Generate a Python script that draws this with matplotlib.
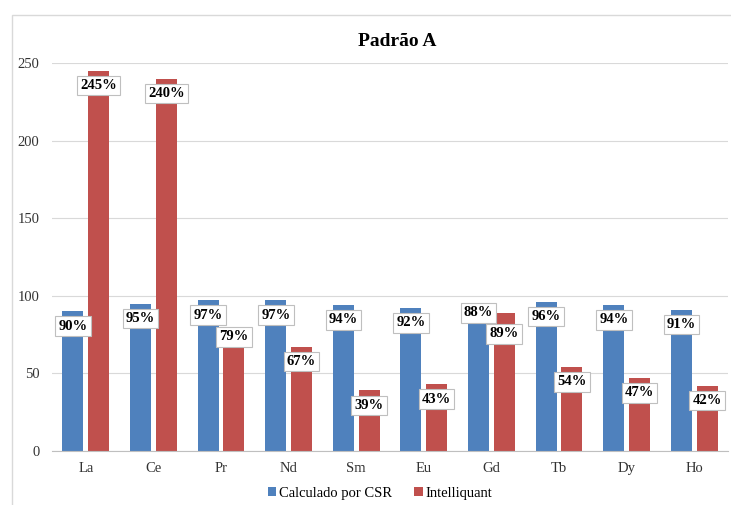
import numpy as np
import matplotlib; matplotlib.use("Agg")
import matplotlib.pyplot as plt
from matplotlib.patches import Rectangle

plt.rcParams["font.family"] = ["Liberation Serif", "DejaVu Serif"]

elementos   = ["La", "Ce", "Pr", "Nd", "Sm", "Eu", "Gd", "Tb", "Dy", "Ho"]
csr         = [90, 95, 97, 97, 94, 92, 88, 96, 94, 91]
intelliquant = [245, 240, 79, 67, 39, 43, 89, 54, 47, 42]
series      = ["Calculado por CSR", "Intelliquant"]

AZUL, VERMELHO = "#4F81BD", "#C0504D"
W, OFF = 0.31, 0.19
# deslocamento padrao do rotulo (abaixo do topo da barra) e casos especiais
DY_PADRAO = -9.5
DY_ESPECIAL = {(0, 6): 1.0, (1, 2): -5.5, (1, 6): -13.5}

fig = plt.figure(figsize=(7.31, 5.05), dpi=100)
fig.patches.append(Rectangle((12/731, -0.1), 1.2, 1.1 - 15/505,
                             transform=fig.transFigure, fill=False,
                             ec="#D9D9D9", lw=1.0))
ax = fig.add_axes([52/731, 54/505, 676/731, 388/505])

x = np.arange(len(elementos))
ax.bar(x - OFF, csr, W, color=AZUL, label=series[0], zorder=2)
ax.bar(x + OFF, intelliquant, W, color=VERMELHO, label=series[1], zorder=2)

for s, (vals, dx) in enumerate([(csr, -OFF), (intelliquant, OFF)]):
    for i, v in enumerate(vals):
        dy = DY_ESPECIAL.get((s, i), DY_PADRAO)
        ax.text(i + dx, v + dy, f"{v}%", ha="center", va="center",
                fontsize=10.5, fontweight="bold", zorder=4,
                bbox=dict(boxstyle="square,pad=0.22", fc="white",
                          ec="#BFBFBF", lw=0.8))

ax.set_xlim(-0.5, len(elementos) - 0.5)
ax.set_ylim(0, 250)
ax.set_yticks(range(0, 251, 50))
ax.set_xticks(x)
ax.set_xticklabels(elementos)
ax.tick_params(length=0, labelsize=10.5, colors="#333333", pad=8)
ax.tick_params(axis="y", pad=9)
ax.yaxis.grid(True, color="#D9D9D9", lw=0.8, zorder=0)
ax.set_axisbelow(True)
for lado in ["top", "right", "left"]:
    ax.spines[lado].set_visible(False)
ax.spines["bottom"].set_color("#BFBFBF")

fig.text(397/731, 1 - 42/505, "Padrão A", ha="center", va="center",
         fontsize=14, fontweight="bold")
fig.legend(loc="center", bbox_to_anchor=(380/731, 1 - 493/505), ncol=2,
           frameon=False, fontsize=10.5, handlelength=0.6, handleheight=0.6,
           handletextpad=0.2, columnspacing=1.5)

fig.savefig("out.png", dpi=100)
